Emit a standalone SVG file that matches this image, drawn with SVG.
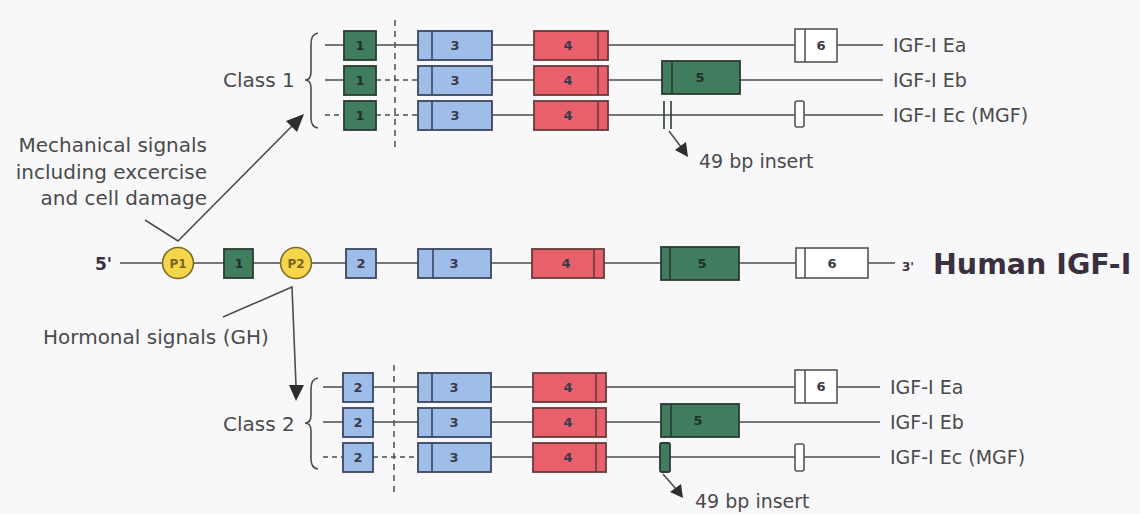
<svg xmlns="http://www.w3.org/2000/svg" width="1140" height="514" viewBox="0 0 1140 514">
<defs>
<style>
.bg{fill:#f8f8fa}
.ln{stroke:#4d4d4d;stroke-width:1.6;fill:none}
.dl{stroke:#4d4d4d;stroke-width:1.6;fill:none;stroke-dasharray:5 4}
.vd{stroke:#555;stroke-width:1.6;fill:none;stroke-dasharray:6 5}
.g{fill:#3f7d5e;stroke:#2b3a31;stroke-width:1.8}
.b{fill:#9ebde8;stroke:#3a4560;stroke-width:1.8}
.r{fill:#e9606d;stroke:#6a3a3a;stroke-width:1.8}
.w{fill:#ffffff;stroke:#555;stroke-width:1.6}
.p{fill:#f5d54a;stroke:#7a6a2a;stroke-width:1.6}
.in{stroke-width:1.6;fill:none}
.num{font-family:"DejaVu Sans",Verdana,sans-serif;font-size:13px;font-weight:bold;fill:#3a3a4a;text-anchor:middle}
.gnum{font-family:"DejaVu Sans",Verdana,sans-serif;font-size:13px;font-weight:bold;fill:#22322a;text-anchor:middle}
.pnum{font-family:"DejaVu Sans",Verdana,sans-serif;font-size:12px;font-weight:bold;fill:#7a6420;text-anchor:middle}
.lab{font-family:"DejaVu Sans",Verdana,sans-serif;font-size:20px;fill:#4a4a4a}
.iso{font-family:"DejaVu Sans",Verdana,sans-serif;font-size:19px;fill:#4a4a4a}
.big{font-family:"DejaVu Sans",Verdana,sans-serif;font-size:28.5px;font-weight:bold;fill:#3a3040}
.end{font-family:"DejaVu Sans",Verdana,sans-serif;font-weight:bold;fill:#3a3040}
.ah{fill:#2e2e2e}
</style>
</defs>
<rect class="bg" x="0" y="0" width="1140" height="514"/>

<!-- connectors -->
<g id="connectors">
  <!-- Class 1 rows -->
  <line class="ln" x1="325" y1="45" x2="883" y2="45"/>
  <line class="ln" x1="325" y1="80" x2="376" y2="80"/>
  <line class="dl" x1="376" y1="80" x2="418" y2="80"/>
  <line class="ln" x1="492" y1="80" x2="883" y2="80"/>
  <line class="dl" x1="325" y1="115" x2="344" y2="115"/>
  <line class="dl" x1="376" y1="115" x2="418" y2="115"/>
  <line class="ln" x1="492" y1="115" x2="883" y2="115"/>
  <!-- Class 2 rows -->
  <line class="ln" x1="323" y1="387" x2="880" y2="387"/>
  <line class="ln" x1="323" y1="422" x2="880" y2="422"/>
  <line class="dl" x1="323" y1="457" x2="343" y2="457"/>
  <line class="dl" x1="373" y1="457" x2="418" y2="457"/>
  <line class="ln" x1="491" y1="457" x2="880" y2="457"/>
  <!-- main gene -->
  <line class="ln" x1="120" y1="263" x2="895" y2="263"/>
  <!-- dashed verticals -->
  <line class="vd" x1="395" y1="20" x2="395" y2="148"/>
  <line class="vd" x1="394" y1="365" x2="394" y2="496"/>
  <!-- braces -->
  <path class="ln" d="M318,33 Q311,34 311,44 L311,72 Q311,80 305,80 Q311,80 311,88 L311,118 Q311,127 318,128"/>
  <path class="ln" d="M318,378 Q311,379 311,389 L311,415 Q311,423 305,423 Q311,423 311,431 L311,459 Q311,468 318,469"/>
  <!-- mechanical signals arrow -->
  <polyline class="ln" points="145,220 178,241 293,125"/>
  <polygon class="ah" points="304,114 286,121 297,132"/>
  <!-- hormonal signals arrow -->
  <polyline class="ln" points="223,317 292,287 296,386"/>
  <polygon class="ah" points="296,401 289,385 304,385"/>
  <!-- 49 bp insert arrows -->
  <line class="ln" x1="669" y1="131" x2="681" y2="147"/>
  <polygon class="ah" points="688,157 675,150 686,142"/>
  <line class="ln" x1="663" y1="474" x2="676" y2="489"/>
  <polygon class="ah" points="683,498 670,492 681,484"/>
</g>

<!-- main gene -->
<g id="main-gene">
  <text class="end" x="95" y="270" font-size="17">5'</text>
  <g id="P1"><circle class="p" cx="178" cy="263" r="15.5"/><text class="pnum" x="178" y="267.5">P1</text></g>
  <g id="main-ex1"><rect class="g" x="224" y="249" width="29" height="29"/><text class="gnum" x="239" y="268">1</text></g>
  <g id="P2"><circle class="p" cx="296" cy="263" r="15.5"/><text class="pnum" x="296" y="267.5">P2</text></g>
  <g id="main-ex2"><rect class="b" x="346" y="249" width="30" height="29"/><text class="num" x="361" y="268">2</text></g>
  <g id="main-ex3"><rect class="b" x="418" y="249" width="73" height="29"/><line class="in" stroke="#3a4560" x1="433" y1="249" x2="433" y2="278"/><text class="num" x="454" y="268">3</text></g>
  <g id="main-ex4"><rect class="r" x="532" y="249" width="72" height="29"/><line class="in" stroke="#6a3a3a" x1="594" y1="249" x2="594" y2="278"/><text class="num" x="566" y="268">4</text></g>
  <g id="main-ex5"><rect class="g" x="661" y="247" width="78" height="33"/><line class="in" stroke="#2b3a31" x1="670" y1="247" x2="670" y2="280"/><text class="gnum" x="702" y="268">5</text></g>
  <g id="main-ex6"><rect class="w" x="796" y="248" width="72" height="30"/><line class="in" stroke="#555" x1="805" y1="248" x2="805" y2="278"/><text class="num" x="832" y="268">6</text></g>
  <text class="end" x="902" y="271" font-size="12">3'</text>
  <text class="big" x="933" y="274">Human IGF-I</text>
</g>

<!-- labels -->
<g id="signal-labels">
  <text class="lab" x="207" y="152" text-anchor="end">Mechanical signals</text>
  <text class="lab" x="207" y="179" text-anchor="end">including excercise</text>
  <text class="lab" x="207" y="205" text-anchor="end">and cell damage</text>
  <text class="lab" x="43" y="344">Hormonal signals (GH)</text>
  <text class="lab" x="223" y="87" font-size="20.5">Class 1</text>
  <text class="lab" x="223" y="431" font-size="20.5">Class 2</text>
  <text class="iso" x="699" y="168" font-size="18">49 bp insert</text>
  <text class="iso" x="695" y="508" font-size="18">49 bp insert</text>
</g>

<!-- Class 1 -->
<g id="class1-Ea">
  <rect class="g" x="344" y="31" width="32" height="29"/><text class="gnum" x="360" y="50">1</text>
  <rect class="b" x="418" y="31" width="74" height="29"/><line class="in" stroke="#3a4560" x1="432" y1="31" x2="432" y2="60"/><text class="num" x="455" y="50">3</text>
  <rect class="r" x="534" y="31" width="74" height="29"/><line class="in" stroke="#6a3a3a" x1="598" y1="31" x2="598" y2="60"/><text class="num" x="568" y="50">4</text>
  <rect class="w" x="795" y="29" width="42" height="33"/><line class="in" stroke="#555" x1="805" y1="29" x2="805" y2="62"/><text class="num" x="821" y="50">6</text>
  <text class="iso" x="893" y="52">IGF-I Ea</text>
</g>
<g id="class1-Eb">
  <rect class="g" x="344" y="66" width="32" height="29"/><text class="gnum" x="360" y="85">1</text>
  <rect class="b" x="418" y="66" width="74" height="29"/><line class="in" stroke="#3a4560" x1="432" y1="66" x2="432" y2="95"/><text class="num" x="455" y="85">3</text>
  <rect class="r" x="534" y="66" width="74" height="29"/><line class="in" stroke="#6a3a3a" x1="598" y1="66" x2="598" y2="95"/><text class="num" x="568" y="85">4</text>
  <rect class="g" x="662" y="61" width="78" height="33"/><line class="in" stroke="#2b3a31" x1="672" y1="61" x2="672" y2="94"/><text class="gnum" x="700" y="82">5</text>
  <text class="iso" x="893" y="87">IGF-I Eb</text>
</g>
<g id="class1-Ec">
  <rect class="g" x="344" y="101" width="32" height="29"/><text class="gnum" x="360" y="120">1</text>
  <rect class="b" x="418" y="101" width="74" height="29"/><line class="in" stroke="#3a4560" x1="432" y1="101" x2="432" y2="130"/><text class="num" x="455" y="120">3</text>
  <rect class="r" x="534" y="101" width="74" height="29"/><line class="in" stroke="#6a3a3a" x1="598" y1="101" x2="598" y2="130"/><text class="num" x="568" y="120">4</text>
  <line class="in" stroke="#2b3a31" stroke-width="2.2" x1="664" y1="101" x2="664" y2="129"/>
  <line class="in" stroke="#2b3a31" stroke-width="2.2" x1="671" y1="101" x2="671" y2="129"/>
  <rect class="w" x="795" y="101" width="9" height="26" rx="2"/>
  <text class="iso" x="893" y="122">IGF-I Ec (MGF)</text>
</g>

<!-- Class 2 -->
<g id="class2-Ea">
  <rect class="b" x="343" y="373" width="30" height="29"/><text class="num" x="358" y="392">2</text>
  <rect class="b" x="418" y="373" width="73" height="29"/><line class="in" stroke="#3a4560" x1="432" y1="373" x2="432" y2="402"/><text class="num" x="454" y="392">3</text>
  <rect class="r" x="533" y="373" width="73" height="29"/><line class="in" stroke="#6a3a3a" x1="596" y1="373" x2="596" y2="402"/><text class="num" x="568" y="392">4</text>
  <rect class="w" x="795" y="370" width="42" height="33"/><line class="in" stroke="#555" x1="805" y1="370" x2="805" y2="403"/><text class="num" x="821" y="391">6</text>
  <text class="iso" x="890" y="394">IGF-I Ea</text>
</g>
<g id="class2-Eb">
  <rect class="b" x="343" y="408" width="30" height="29"/><text class="num" x="358" y="427">2</text>
  <rect class="b" x="418" y="408" width="73" height="29"/><line class="in" stroke="#3a4560" x1="432" y1="408" x2="432" y2="437"/><text class="num" x="454" y="427">3</text>
  <rect class="r" x="533" y="408" width="73" height="29"/><line class="in" stroke="#6a3a3a" x1="596" y1="408" x2="596" y2="437"/><text class="num" x="568" y="427">4</text>
  <rect class="g" x="661" y="404" width="78" height="33"/><line class="in" stroke="#2b3a31" x1="671" y1="404" x2="671" y2="437"/><text class="gnum" x="698" y="425">5</text>
  <text class="iso" x="890" y="429">IGF-I Eb</text>
</g>
<g id="class2-Ec">
  <rect class="b" x="343" y="443" width="30" height="29"/><text class="num" x="358" y="462">2</text>
  <rect class="b" x="418" y="443" width="73" height="29"/><line class="in" stroke="#3a4560" x1="432" y1="443" x2="432" y2="472"/><text class="num" x="454" y="462">3</text>
  <rect class="r" x="533" y="443" width="73" height="29"/><line class="in" stroke="#6a3a3a" x1="596" y1="443" x2="596" y2="472"/><text class="num" x="568" y="462">4</text>
  <rect class="g" x="660" y="443" width="10" height="29" rx="1.5"/>
  <rect class="w" x="795" y="444" width="9" height="27" rx="2"/>
  <text class="iso" x="890" y="464">IGF-I Ec (MGF)</text>
</g>
</svg>
